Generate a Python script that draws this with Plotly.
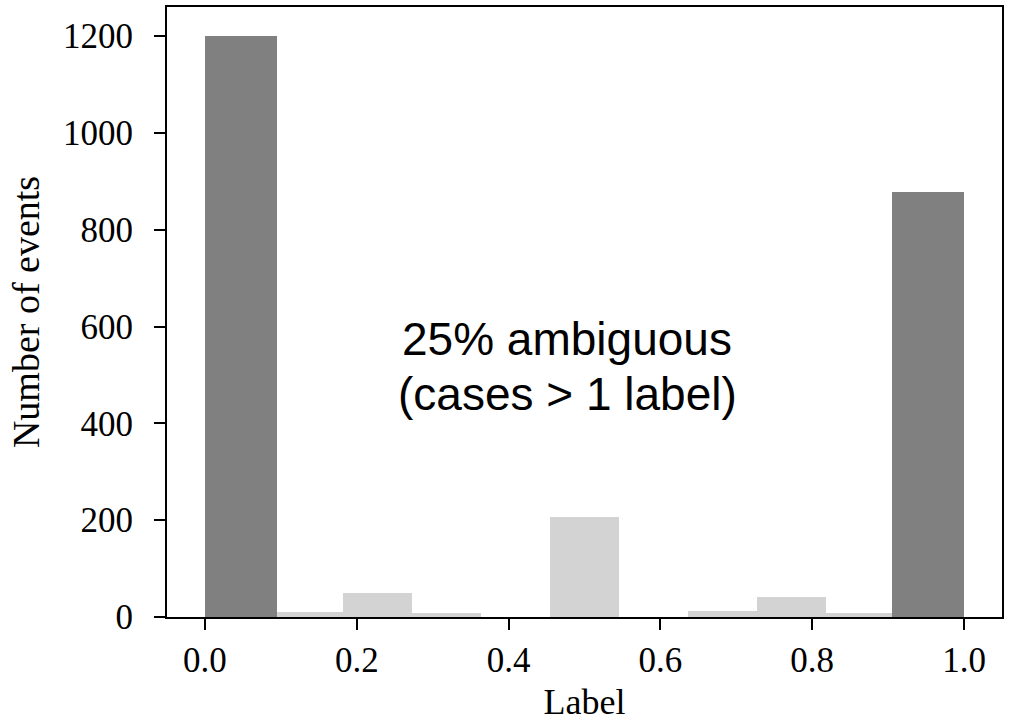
import plotly.graph_objects as go

# Data
light_centers = [(k + 0.5) / 11 for k in range(11)]
light_counts = [0, 11, 50, 9, 0, 206, 0, 13, 41, 9, 0]
dark_centers = [0.0473, 0.9527]
dark_counts = [1200, 878]
dark_width = 0.0946
x_ticks = [0.0, 0.2, 0.4, 0.6, 0.8, 1.0]
y_ticks = [0, 200, 400, 600, 800, 1000, 1200]
note_lines = ["25% ambiguous", "(cases > 1 label)"]

fig = go.Figure()
fig.add_trace(go.Bar(x=light_centers, y=light_counts, width=1 / 11,
                     marker=dict(color="#d3d3d3", line=dict(width=0)),
                     showlegend=False))
fig.add_trace(go.Bar(x=dark_centers, y=dark_counts, width=dark_width,
                     marker=dict(color="#808080", line=dict(width=0)),
                     showlegend=False))

serif = "Liberation Serif"
fig.update_layout(
    width=1011, height=722,
    margin=dict(l=167, r=9, t=5, b=104),
    plot_bgcolor="white", paper_bgcolor="white",
    barmode="overlay", bargap=0,
    font=dict(family=serif, color="black"),
    annotations=[
        dict(text=note_lines[0], x=0.477, y=0.456, xref="x", yref="paper",
             showarrow=False, yanchor="middle",
             font=dict(family="Liberation Sans", size=46, color="black")),
        dict(text=note_lines[1], x=0.477, y=0.365, xref="x", yref="paper",
             showarrow=False, yanchor="middle",
             font=dict(family="Liberation Sans", size=46, color="black")),
    ],
)
fig.update_xaxes(
    range=[-0.05, 1.05], tickvals=x_ticks, tickformat=".1f",
    showgrid=False, zeroline=False,
    showline=True, linecolor="black", linewidth=2, mirror=True,
    ticks="outside", ticklen=11, tickwidth=2, tickcolor="black",
    tickfont=dict(family=serif, size=35),
    title=dict(text="Label", font=dict(family=serif, size=36), standoff=12),
)
fig.update_yaxes(
    range=[0, 1260], tickvals=y_ticks,
    showgrid=False, zeroline=False,
    showline=True, linecolor="black", linewidth=2, mirror=True,
    ticks="outside", ticklen=11, tickwidth=2, tickcolor="black",
    tickfont=dict(family=serif, size=35), ticklabelstandoff=14,
    title=dict(text="Number of events", font=dict(family=serif, size=38), standoff=12),
)

fig.write_html("out.html")
